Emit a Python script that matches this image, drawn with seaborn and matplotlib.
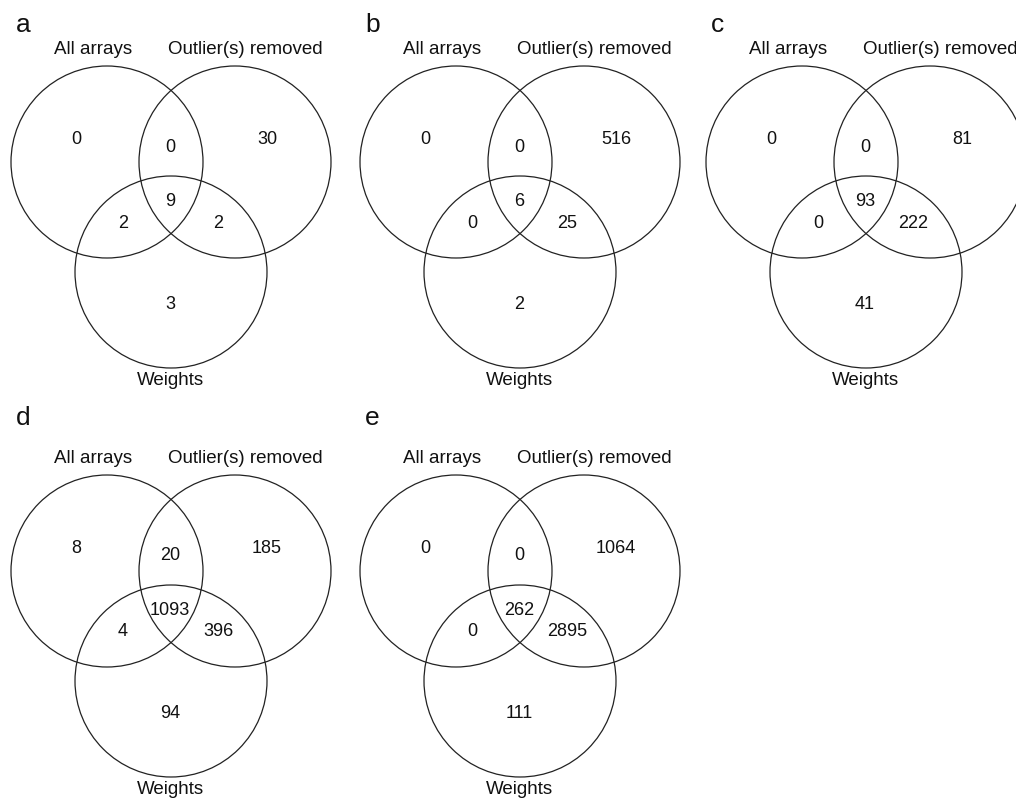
import pandas as pd
import matplotlib.pyplot as plt
import seaborn as sns
from matplotlib.patches import Circle

sns.set_theme(style="white")
plt.rcParams["font.family"] = ["Liberation Sans", "DejaVu Sans"]

# Venn counts per panel (a-e)
panels = ["a", "b", "c", "d", "e"]
set_names = ["All arrays", "Outlier(s) removed", "Weights"]
only_all = [0, 0, 0, 8, 0]
all_outlier = [0, 0, 0, 20, 0]
only_outlier = [30, 516, 81, 185, 1064]
all_three = [9, 6, 93, 1093, 262]
all_weights = [2, 0, 0, 4, 0]
outlier_weights = [2, 25, 222, 396, 2895]
only_weights = [3, 2, 41, 94, 111]

df = pd.DataFrame({
    "panel": panels,
    "A": only_all, "AB": all_outlier, "B": only_outlier, "ABC": all_three,
    "AC": all_weights, "BC": outlier_weights, "C": only_weights,
})

# Layout in pixels: centre between circles A/B, and y of panel letter
centres = [(171, 163), (520, 163), (866, 163), (171, 572), (520, 572)]
letter_y = [25, 25, 25, 418, 418]
R = 96
circle_off = [(-64, 0), (64, 0), (0, 110)]
region_off = {"A": (-95, -23), "AB": (-1, -16), "B": (96, -23),
              "ABC": (-1, 39), "AC": (-48, 60), "BC": (47, 60), "C": (-1, 142)}

fig = plt.figure(figsize=(10.16, 8.03), dpi=100)
ax = fig.add_axes([0, 0, 1, 1])
ax.set_xlim(0, 1016)
ax.set_ylim(803, 0)
ax.set_axis_off()

for i, row in df.iterrows():
    cx, cy = centres[i]
    for dx, dy in circle_off:
        ax.add_patch(Circle((cx + dx, cy + dy), R, fill=False,
                            edgecolor="#222222", linewidth=0.9))
    for key, (dx, dy) in region_off.items():
        ax.text(cx + dx, cy + dy, str(row[key]), ha="center", va="center",
                fontsize=13, color="#111111")
    ax.text(cx - 78, cy - 113, set_names[0], ha="center", va="center",
            fontsize=13.5, color="#111111")
    ax.text(cx + 74, cy - 113, set_names[1], ha="center", va="center",
            fontsize=13.5, color="#111111")
    ax.text(cx - 1, cy + 218, set_names[2], ha="center", va="center",
            fontsize=13.5, color="#111111")
    ax.text(cx - 155, letter_y[i], row["panel"], ha="left", va="center",
            fontsize=19, color="#111111")

plt.savefig("out.png", dpi=100)
plt.close()
